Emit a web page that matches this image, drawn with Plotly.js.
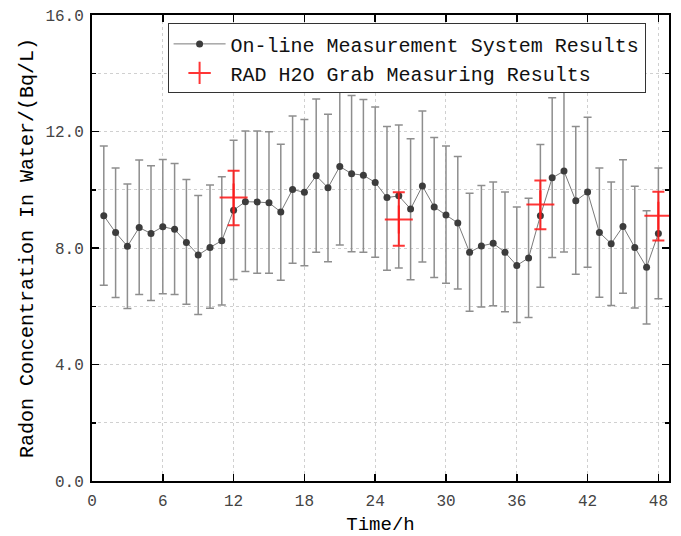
<!DOCTYPE html>
<html>
<head>
<meta charset="utf-8">
<script src="https://cdn.plot.ly/plotly-3.0.1.min.js"></script>
<style>html,body{margin:0;padding:0;background:#fff;}#chart{width:681px;height:536px;}</style>
</head>
<body>
<div id="chart"></div>
<script>
const hours = [1,2,3,4,5,6,7,8,9,10,11,12,13,14,15,16,17,18,19,20,21,22,23,24,25,26,27,28,29,30,31,32,33,34,35,36,37,38,39,40,41,42,43,44,45,46,47,48];
const onlineValues = [9.11,8.53,8.06,8.70,8.50,8.73,8.64,8.19,7.76,8.02,8.25,9.30,9.59,9.58,9.55,9.24,10.01,9.91,10.48,10.07,10.80,10.55,10.50,10.25,9.73,9.79,9.34,10.13,9.41,9.13,8.86,7.85,8.07,8.16,7.85,7.40,7.66,9.11,10.41,10.64,9.62,9.92,8.53,8.15,8.74,8.02,7.34,8.50];
const onlineErrPlus = [2.39,2.22,2.14,2.32,2.32,2.31,2.26,2.16,2.04,2.14,2.20,2.40,2.43,2.44,2.44,2.32,2.52,2.50,2.64,2.52,2.68,2.69,2.60,2.59,2.44,2.43,2.41,2.57,2.38,2.37,2.28,2.03,2.08,2.11,2.07,2.01,2.05,2.44,2.75,2.77,2.55,2.57,2.22,2.12,2.29,2.10,1.94,2.25];
const onlineErrMinus = [2.39,2.23,2.14,2.30,2.30,2.30,2.24,2.12,2.04,2.09,2.21,2.38,2.40,2.45,2.42,2.35,2.53,2.52,2.63,2.54,2.70,2.68,2.65,2.57,2.49,2.48,2.43,2.61,2.42,2.34,2.27,2.02,2.10,2.14,2.04,1.96,2.05,2.46,2.74,2.78,2.52,2.58,2.22,2.12,2.29,2.08,1.95,2.24];
const grabHours = [12,26,38,48];
const grabValues = [9.73,8.98,9.49,9.11];
const grabErrPlus = [0.92,0.93,0.83,0.82];
const grabErrMinus = [0.95,0.90,0.85,0.85];
const xTicks = [0,6,12,18,24,30,36,42,48];

const FONT = '"Liberation Mono", "DejaVu Sans Mono", monospace';
const RED = 'rgba(255,25,25,0.88)';

const traces = [
  {
    x: hours, y: onlineValues, type: 'scatter', mode: 'lines+markers',
    name: 'On-line Measurement System Results',
    line: {color: '#7a7a7a', width: 1},
    marker: {color: '#3c3c3c', size: 7},
    error_y: {type: 'data', symmetric: false, array: onlineErrPlus, arrayminus: onlineErrMinus,
      color: '#8e8e8e', thickness: 1.5, width: 4}
  },
  {
    x: grabHours, y: grabValues, type: 'scatter', mode: 'markers',
    name: 'RAD H2O Grab Measuring Results',
    marker: {symbol: 'cross-thin', size: 20, line: {color: RED, width: 2}, color: RED},
    error_y: {type: 'data', symmetric: false, array: grabErrPlus, arrayminus: grabErrMinus,
      color: RED, thickness: 2, width: 6}
  }
];

const layout = {
  width: 681, height: 536,
  margin: {l: 92, r: 12, t: 15, b: 55},
  paper_bgcolor: '#ffffff', plot_bgcolor: '#ffffff',
  showlegend: true,
  legend: {
    x: 0.131, y: 0.982, xanchor: 'left', yanchor: 'top',
    bgcolor: '#ffffff', bordercolor: '#333333', borderwidth: 1,
    font: {family: FONT, size: 20, color: '#111'},
    itemwidth: 52,
    tracegroupgap: 0
  },
  xaxis: {
    range: [0, 48.9], tickmode: 'array', tickvals: xTicks, ticktext: xTicks.map(String),
    ticks: 'inside', ticklen: 7, tickwidth: 1.5, tickcolor: '#000',
    showline: true, linecolor: '#000', linewidth: 2, mirror: 'ticks',
    showgrid: true, gridcolor: '#d0d0d0', griddash: 'dot', gridwidth: 1,
    zeroline: false,
    ticklabelstandoff: 4,
    tickfont: {family: FONT, size: 16, color: '#444'},
    title: {text: 'Time/h', font: {family: FONT, size: 19, color: '#000'}, standoff: 8}
  },
  yaxis: {
    range: [0, 16], dtick: 4, tick0: 0, tickformat: '.1f',
    ticks: 'inside', ticklen: 7, tickwidth: 1.5, tickcolor: '#000',
    showline: true, linecolor: '#000', linewidth: 2, mirror: 'ticks',
    showgrid: true, gridcolor: '#d0d0d0', griddash: 'dot', gridwidth: 1,
    minor: {dtick: 2, ticks: 'inside', ticklen: 4, tickcolor: '#000', showgrid: true, gridcolor: '#d0d0d0', griddash: 'dot'},
    zeroline: false,
    ticklabelstandoff: 3,
    tickfont: {family: FONT, size: 16, color: '#444'},
    title: {text: 'Radon Concentration In Water/(Bq/L)', font: {family: FONT, size: 20, color: '#000'}, standoff: 6}
  }
};

Plotly.newPlot('chart', traces, layout, {displayModeBar: false, staticPlot: true});
</script>
</body>
</html>
